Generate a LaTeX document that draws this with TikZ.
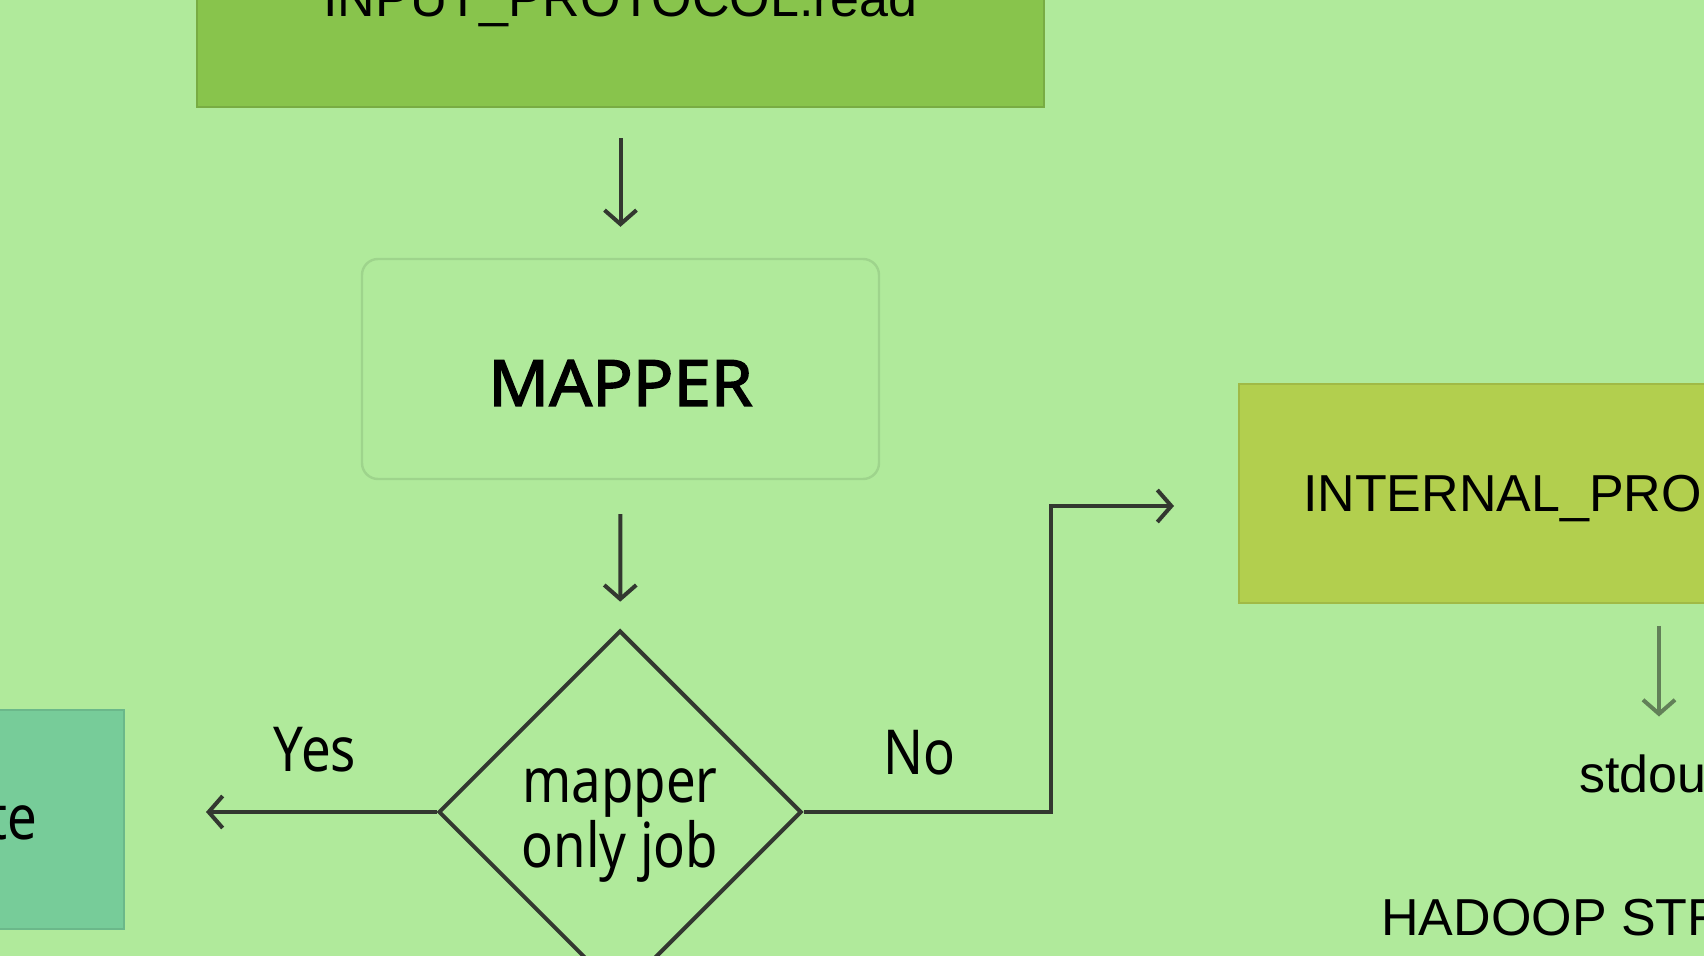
\documentclass[tikz,border=0pt]{standalone}
\usepackage{fontspec}
\setmainfont{Liberation Sans}
\newfontfamily\headfont[FakeBold=2.2, FakeStretch=1.05]{Noto Sans}
\newfontfamily\condfont[FakeStretch=0.85]{Noto Sans}
\usetikzlibrary{shapes.geometric,arrows.meta}
\definecolor{bggreen}{RGB}{176,234,155}
\definecolor{inputgreen}{RGB}{136,196,76}
\definecolor{internalolive}{RGB}{178,207,78}
\definecolor{outputteal}{RGB}{119,204,153}
\definecolor{mapperedge}{RGB}{158,212,140}
\definecolor{arrowgray}{RGB}{51,56,48}
\definecolor{arrowlight}{RGB}{98,128,88}

\begin{document}
\begin{tikzpicture}[
    x=0.5pt, y=-0.5pt,
    every node/.style={font=\fontsize{26}{30}\selectfont},
    plain/.style={inner sep=0pt},
    cond/.style={inner sep=0pt, font=\condfont\fontsize{31}{32.5}\selectfont},
    protobox/.style={rectangle, minimum height=109.5pt, inner ysep=0pt, text depth=0pt, line width=1pt},
    inbox/.style={protobox, fill=inputgreen, draw=inputgreen!88!black},
    intbox/.style={protobox, fill=internalolive, draw=internalolive!90!black, inner xsep=32pt},
    outbox/.style={protobox, fill=outputteal, draw=outputteal!90!black, inner xsep=43.5pt, font=\condfont\fontsize{31}{32.5}\selectfont},
    mapperbox/.style={rectangle, rounded corners=8pt, draw=mapperedge, line width=1.2pt, minimum width=258.5pt, minimum height=110pt, text height=37pt, text depth=0pt, font=\headfont\fontsize{32}{36}\selectfont},
    decision/.style={diamond, draw=arrowgray, line width=2pt, minimum width=181.5pt, minimum height=181.5pt, inner sep=0pt, align=center, text height=63pt, font=\condfont\fontsize{31}{32.5}\selectfont},
    flow/.style={draw=arrowgray, line width=2pt, -{Straight Barb[length=7pt, width=16pt]}},
    flowlight/.style={flow, draw=arrowlight}
]

% Background
\fill[bggreen] (0,0) rectangle (1704,956);
\useasboundingbox (0,0) rectangle (1704,956);
\clip (0,0) rectangle (1704,956);

% Boxes
\node[inbox, minimum width=423.5pt] (input) at (620.5,-2) {INPUT\_PROTOCOL.read};
\node[mapperbox] (mapper) at (620.5,369) {MAPPER};
\node[decision] (dia) at (620,812) {mapper\\only job};
\node[outbox, anchor=east] (output) at (125,819.5) {te};
\node[intbox, anchor=west] (internal) at (1238,493.5) {INTERNAL\_PRO};

% Texts
\node[cond] (yes) at (315,750) {Yes};
\node[cond] (no) at (919,753) {No};
\node[plain, anchor=west] (stdout) at (1579,774) {stdou};
\node[plain, anchor=west] (title) at (1381,918) {HADOOP STR};

% Arrows
\draw[flow, shorten <=15pt, shorten >=15.5pt] (input) -- (mapper);
\draw[flow, shorten <=17pt, shorten >=13.5pt] (mapper) -- (dia);
\draw[flow, shorten >=40.5pt] (dia.west) -- (dia.west -| output.east);
\coordinate (bend) at (1051,506);
\draw[flow, shorten >=32pt] (dia.east) -| (bend) -- (bend -| internal.west);
\coordinate (outx) at (1659,0);
\draw[flowlight, shorten <=11pt, shorten >=19pt] (outx |- internal.south) -- (outx |- stdout.north);

\end{tikzpicture}
\end{document}
